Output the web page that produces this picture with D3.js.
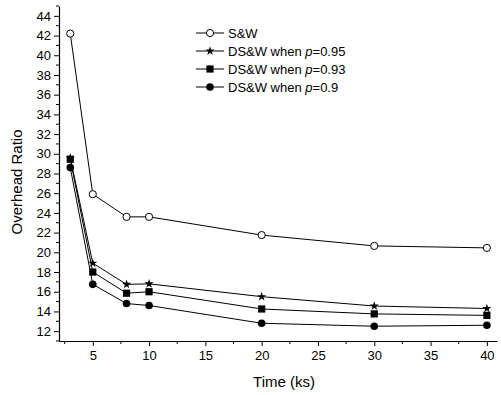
<!DOCTYPE html>
<html>
<head>
<meta charset="utf-8">
<script src="https://cdn.jsdelivr.net/npm/d3@7"></script>
<style>
  body { margin: 0; background: #fff; }
  svg text { font-family: "Liberation Sans", Arial, sans-serif; fill: #000; }
</style>
</head>
<body>
<svg width="501" height="395"></svg>
<script>
// data
var times = [3, 5, 8, 10, 20, 30, 40];
var sw    = [42.2, 25.9, 23.6, 23.6, 21.75, 20.65, 20.45];
var p95   = [29.6, 18.9, 16.75, 16.8, 15.5, 14.55, 14.3];
var p93   = [29.45, 18.0, 15.85, 16.0, 14.25, 13.75, 13.6];
var p90   = [28.6, 16.75, 14.8, 14.6, 12.8, 12.5, 12.6];
var seriesNames = ["S&W", "DS&W when p=0.95", "DS&W when p=0.93", "DS&W when p=0.9"];
var xTicks = [5, 10, 15, 20, 25, 30, 35, 40];
var yTicks = [12, 14, 16, 18, 20, 22, 24, 26, 28, 30, 32, 34, 36, 38, 40, 42, 44];

var svg = d3.select("svg");

var x = d3.scaleLinear().domain([2, 40.9]).range([59, 497]);
var y = d3.scaleLinear().domain([11, 45]).range([341, 6]);

// y axis
var yAxis = svg.append("g").attr("transform", "translate(59,0)");
yAxis.call(d3.axisLeft(y).tickValues(yTicks).tickSize(5).tickSizeOuter(0).tickPadding(3));
yAxis.append("g").selectAll("line")
    .data(d3.range(11, 46, 1).filter(function(v) { return v % 2 == 1; }))
    .enter().append("line")
    .attr("x1", -3).attr("x2", 0)
    .attr("y1", function(d) { return y(d); })
    .attr("y2", function(d) { return y(d); })
    .attr("stroke", "#000");

// x axis
var xAxis = svg.append("g").attr("transform", "translate(0,341)");
xAxis.call(d3.axisBottom(x).tickValues(xTicks).tickSize(5).tickSizeOuter(0).tickPadding(5));
xAxis.append("g").selectAll("line")
    .data([2.5, 7.5, 12.5, 17.5, 22.5, 27.5, 32.5, 37.5])
    .enter().append("line")
    .attr("y1", 0).attr("y2", 3)
    .attr("x1", function(d) { return x(d); })
    .attr("x2", function(d) { return x(d); })
    .attr("stroke", "#000");

svg.selectAll(".tick text").style("font-size", "13px");
svg.selectAll(".domain").attr("stroke-width", 1.2);

svg.append("text")
    .attr("x", 284).attr("y", 387)
    .attr("text-anchor", "middle")
    .style("font-size", "15px")
    .text("Time (ks)");

svg.append("text")
    .attr("transform", "translate(22,182) rotate(-90)")
    .attr("text-anchor", "middle")
    .style("font-size", "15px")
    .text("Overhead Ratio");

// markers
var starPath = d3.symbol().type(d3.symbolStar).size(26);
function drawMarker(g, kind, cx, cy) {
    if (kind == "open") {
        g.append("circle").attr("cx", cx).attr("cy", cy).attr("r", 3.6)
            .attr("fill", "#fff").attr("stroke", "#000").attr("stroke-width", 1);
    } else if (kind == "star") {
        g.append("path").attr("d", starPath())
            .attr("transform", "translate(" + cx + "," + cy + ")")
            .attr("fill", "#000");
    } else if (kind == "square") {
        g.append("rect").attr("x", cx - 3.6).attr("y", cy - 3.6)
            .attr("width", 7.2).attr("height", 7.2).attr("fill", "#000");
    } else {
        g.append("circle").attr("cx", cx).attr("cy", cy).attr("r", 3.8).attr("fill", "#000");
    }
}

var series = [
    { name: seriesNames[0], vals: sw,  kind: "open" },
    { name: seriesNames[1], vals: p95, kind: "star" },
    { name: seriesNames[2], vals: p93, kind: "square" },
    { name: seriesNames[3], vals: p90, kind: "dot" }
];

var line = d3.line()
    .x(function(d, i) { return x(times[i]); })
    .y(function(d) { return y(d); });

var plot = svg.append("g");
series.slice().reverse().forEach(function(s) {
    plot.append("path")
        .attr("d", line(s.vals))
        .attr("fill", "none")
        .attr("stroke", "#000")
        .attr("stroke-width", 1);
    var mg = plot.append("g");
    s.vals.forEach(function(v, i) {
        drawMarker(mg, s.kind, x(times[i]), y(v));
    });
});

// legend
var legend = svg.append("g");
series.forEach(function(s, i) {
    var ly = 33 + i * 18;
    legend.append("line")
        .attr("x1", 196).attr("x2", 224)
        .attr("y1", ly).attr("y2", ly)
        .attr("stroke", "#000");
    drawMarker(legend, s.kind, 210, ly);
    var t = legend.append("text")
        .attr("x", 228).attr("y", ly + 4.5)
        .style("font-size", "13px");
    if (i == 0) {
        t.text(s.name);
    } else {
        var val = s.name.split("=")[1];
        t.append("tspan").text("DS&W when ");
        t.append("tspan").style("font-style", "italic").text("p");
        t.append("tspan").text("=" + val);
    }
});
</script>
</body>
</html>
